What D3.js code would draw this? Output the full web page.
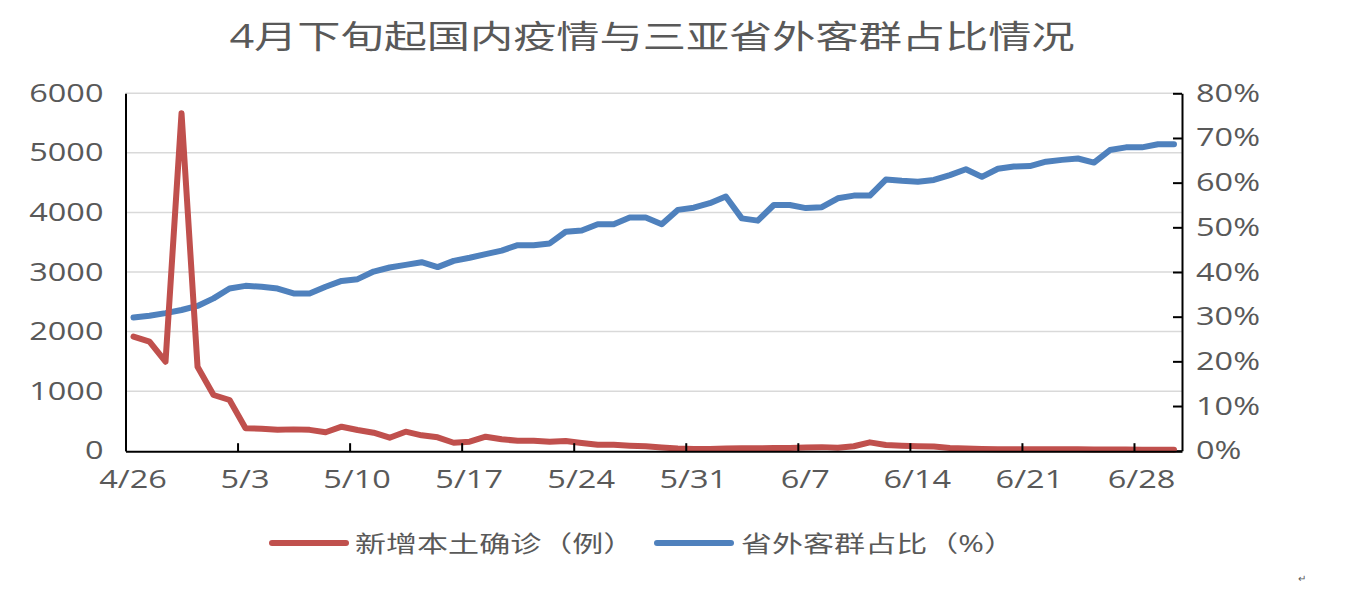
<!DOCTYPE html>
<html>
<head>
<meta charset="utf-8">
<script src="https://cdn.jsdelivr.net/npm/d3@7"></script>
<style>
  html, body { margin: 0; padding: 0; background: #fff; }
  svg { display: block; }
  text { font-family: "Open Sans", "Noto Sans CJK SC", sans-serif; fill: #595959; }
  .sx { transform-box: fill-box; }
  .sx-l { transform-origin: left center; transform: scaleX(1.3); }
  .sx-r { transform-origin: right center; transform: scaleX(1.3); }
  .sx-c { transform-origin: center center; transform: scaleX(1.3); }
  .lg { transform-origin: left center; transform: scaleX(1.35); }
  .title { transform-origin: center center; transform: scaleX(1.35); }
</style>
</head>
<body>
<svg id="chart" width="1356" height="597"></svg>
<script>
// ---------------- data ----------------
const title = "4月下旬起国内疫情与三亚省外客群占比情况";
const startDate = new Date(2022, 3, 26);
const seriesNames = ["新增本土确诊（例）", "省外客群占比（%）"];
// daily new local confirmed cases, 4/26 .. 6/30
const casesValues = [
  1914, 1830, 1494, 5664, 1410, 935, 851, 376, 370, 350,
  358, 350, 310, 403, 347, 302, 218, 319, 258, 225,
  134, 151, 235, 191, 168, 168, 151, 163, 130, 100,
  100, 85, 75, 55, 35, 30, 30, 35, 40, 40,
  45, 45, 55, 60, 50, 75, 140, 95, 85, 75,
  70, 45, 35, 30, 25, 25, 25, 25, 25, 25,
  20, 20, 20, 15, 15, 15
];
// share of out-of-province visitors in Sanya (%), 4/26 .. 6/30
const shareValues = [
  29.8, 30.2, 30.8, 31.5, 32.4, 34.1, 36.3, 36.9, 36.7, 36.3,
  35.2, 35.2, 36.7, 38.0, 38.4, 40.1, 41.0, 41.6, 42.2, 41.1,
  42.5, 43.2, 44.0, 44.8, 46.0, 46.0, 46.4, 49.0, 49.3, 50.7,
  50.7, 52.2, 52.2, 50.7, 53.9, 54.4, 55.4, 56.9, 52.0, 51.5,
  55.0, 55.0, 54.3, 54.5, 56.5, 57.1, 57.1, 60.7, 60.4, 60.2,
  60.6, 61.7, 63.0, 61.3, 63.1, 63.6, 63.7, 64.7, 65.1, 65.4,
  64.5, 67.3, 67.9, 67.9, 68.6, 68.6
];
const leftTicks = [0, 1000, 2000, 3000, 4000, 5000, 6000];
const rightTicks = [0, 10, 20, 30, 40, 50, 60, 70, 80];
const xTickLabels = ["4/26", "5/3", "5/10", "5/17", "5/24", "5/31", "6/7", "6/14", "6/21", "6/28"];
const colors = ["#C0504D", "#4F81BD"];

// ---------------- build ----------------
const dates = casesValues.map((_, i) => d3.timeDay.offset(startDate, i));
const xTickDates = xTickLabels.map(s => {
  const [m, d] = s.split("/").map(Number);
  return new Date(2022, m - 1, d);
});

const svg = d3.select("#chart");
svg.append("rect").attr("width", 1356).attr("height", 597).attr("fill", "#fff");

const L = 125.5, R = 1182, T = 93.3, B = 450.7;
const x = d3.scaleTime()
  .domain([startDate, d3.timeDay.offset(startDate, casesValues.length)])
  .range([L, R]);
const halfDay = (x(d3.timeDay.offset(startDate, 1)) - x(startDate)) / 2;
const xc = d => x(d) + halfDay;
const yL = d3.scaleLinear().domain([0, 6000]).range([B, T]);
const yR = d3.scaleLinear().domain([0, 80]).range([B, T]);

// title
svg.append("text")
  .attr("class", "sx title")
  .attr("x", 652).attr("y", 35)
  .attr("text-anchor", "middle")
  .attr("dominant-baseline", "central")
  .style("font-size", "32px")
  .text(title);

// gridlines
svg.append("g").selectAll("line").data(leftTicks.slice(1)).join("line")
  .attr("x1", L).attr("x2", R)
  .attr("y1", d => yL(d)).attr("y2", d => yL(d))
  .attr("stroke", "#D9D9D9").attr("stroke-width", 1.5);

// left axis
const gL = svg.append("g").attr("transform", `translate(${L},0)`)
  .call(d3.axisLeft(yL).tickValues(leftTicks).tickSize(0).tickPadding(22).tickFormat(d3.format("d")));
gL.select(".domain").attr("stroke", "#000").attr("stroke-width", 2);
gL.selectAll("text").attr("class", "sx sx-r").style("font-size", "25px").attr("font-family", null);

// right axis
const gR = svg.append("g").attr("transform", `translate(${R},0)`)
  .call(d3.axisRight(yR).tickValues(rightTicks).tickSizeInner(-9).tickSizeOuter(0).tickPadding(14)
    .tickFormat(d => d + "%"));
gR.select(".domain").attr("stroke", "#000").attr("stroke-width", 2);
gR.selectAll(".tick line").attr("stroke", "#000").attr("stroke-width", 2);
gR.selectAll("text").attr("class", "sx sx-l").style("font-size", "25px").attr("font-family", null);

// lines
const lineCases = d3.line().x((d, i) => xc(dates[i])).y(d => yL(d));
const lineShare = d3.line().x((d, i) => xc(dates[i])).y(d => yR(d));

svg.append("path").datum(shareValues)
  .attr("d", lineShare).attr("fill", "none")
  .attr("stroke", colors[1]).attr("stroke-width", 6)
  .attr("stroke-linejoin", "round").attr("stroke-linecap", "round");
svg.append("path").datum(casesValues)
  .attr("d", lineCases).attr("fill", "none")
  .attr("stroke", colors[0]).attr("stroke-width", 6)
  .attr("stroke-linejoin", "round").attr("stroke-linecap", "round");

// bottom axis (drawn on top)
const gX = svg.append("g").attr("transform", `translate(0,${B + 0.5})`)
  .call(d3.axisBottom(x).tickValues(xTickDates).tickSizeInner(-8).tickSizeOuter(0).tickPadding(19)
    .tickFormat((d, i) => xTickLabels[i]));
gX.select(".domain").attr("stroke", "#000").attr("stroke-width", 2);
gX.selectAll(".tick line").attr("stroke", "#000").attr("stroke-width", 2);
gX.selectAll("text").attr("class", "sx sx-c").style("font-size", "25px").attr("font-family", null)
  .attr("dx", halfDay - 1);
gL.raise();

// legend
const legend = svg.append("g");
const legendItems = [
  { name: seriesNames[0], color: colors[0], x0: 272, x1: 346, tx: 355 },
  { name: seriesNames[1], color: colors[1], x0: 657, x1: 731, tx: 741 }
];
legendItems.forEach(it => {
  legend.append("line")
    .attr("x1", it.x0).attr("x2", it.x1).attr("y1", 543).attr("y2", 543)
    .attr("stroke", it.color).attr("stroke-width", 6).attr("stroke-linecap", "round");
  legend.append("text")
    .attr("class", "sx lg")
    .attr("x", it.tx).attr("y", 543)
    .attr("dominant-baseline", "central")
    .style("font-size", "23px")
    .text(it.name);
});

// stray return mark
svg.append("text").attr("x", 1298).attr("y", 582).style("font-size", "10px").attr("fill", "#777").text("↵");
</script>
</body>
</html>
